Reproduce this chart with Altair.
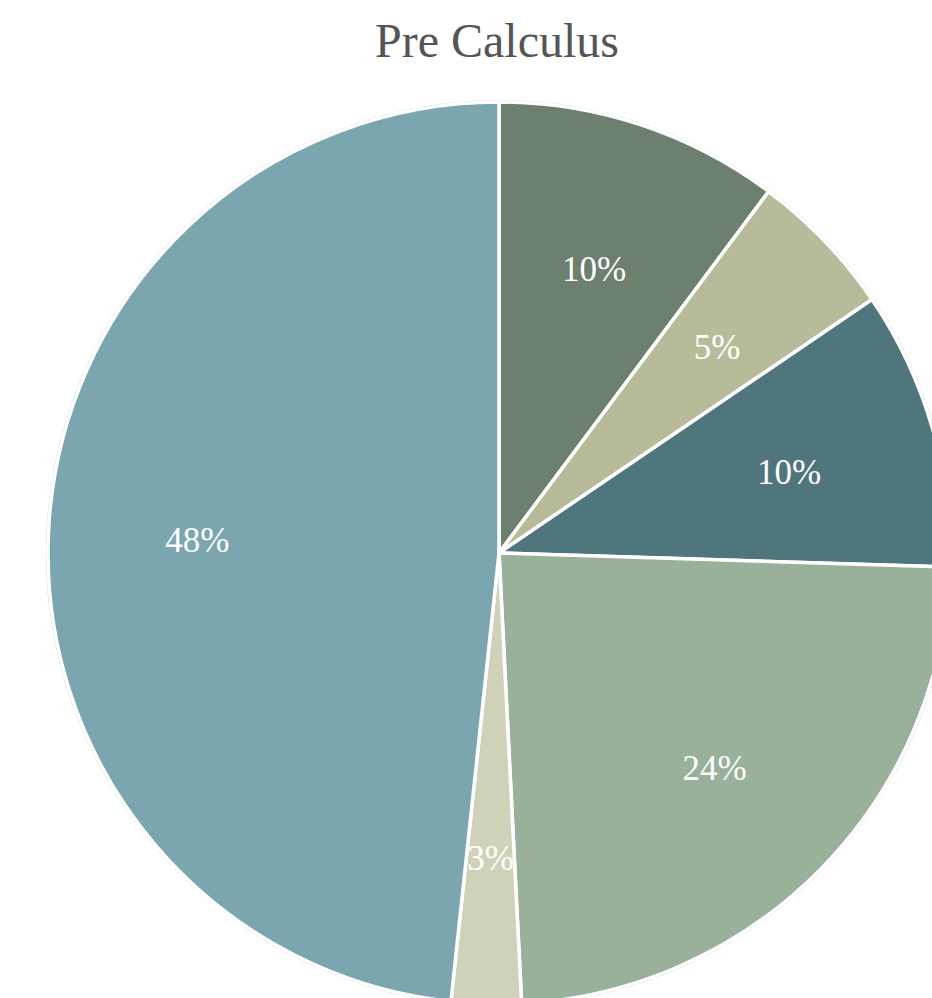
import altair as alt
import pandas as pd

categories = ["A", "B", "C", "D", "E", "F"]
values = [10.2, 5.3, 10.0, 23.7, 2.5, 48.3]
colors = ["#6d7f6f", "#b8bb99", "#4e767c", "#99b09a", "#d0d1b9", "#7ca6af"]
title_text = "Pre Calculus"

total = sum(values)
df = pd.DataFrame({
    "cat": categories,
    "value": values,
    "idx": list(range(len(categories))),
    "label": [f"{int(v / total * 100 + 0.5):d}%" for v in values],
})

CX, CY, R = 499, 553, 451

base = alt.Chart(df).encode(
    theta=alt.Theta("value:Q", stack=True),
    order=alt.Order("idx:Q"),
    x=alt.value(CX),
    y=alt.value(CY),
)

outline = alt.Chart(pd.DataFrame({"a": [0]})).mark_arc(
    radius=R + 1.5, theta=0, theta2=6.2832, fill="white", stroke="#d6d6d6", strokeWidth=1
).encode(x=alt.value(CX), y=alt.value(CY))

slices = base.mark_arc(radius=R, stroke="white", strokeWidth=3.5).encode(
    color=alt.Color("cat:N", scale=alt.Scale(domain=categories, range=colors), legend=None)
)

labels = base.mark_text(
    radius=302, fontSize=35, font="Liberation Serif", color="white",
    align="center", baseline="middle", dy=4
).encode(text="label:N")

title = alt.Chart(pd.DataFrame({"t": [title_text]})).mark_text(
    fontSize=48, font="Liberation Serif", color="#555555", align="center", baseline="alphabetic"
).encode(text="t:N", x=alt.value(497), y=alt.value(57))

chart = alt.layer(outline, slices, labels, title).properties(
    width=932, height=998, autosize=alt.AutoSizeParams(type="none"), padding=0
).configure_view(stroke=None)

chart.save("out.html", embed_options={"renderer": "svg", "actions": False})
